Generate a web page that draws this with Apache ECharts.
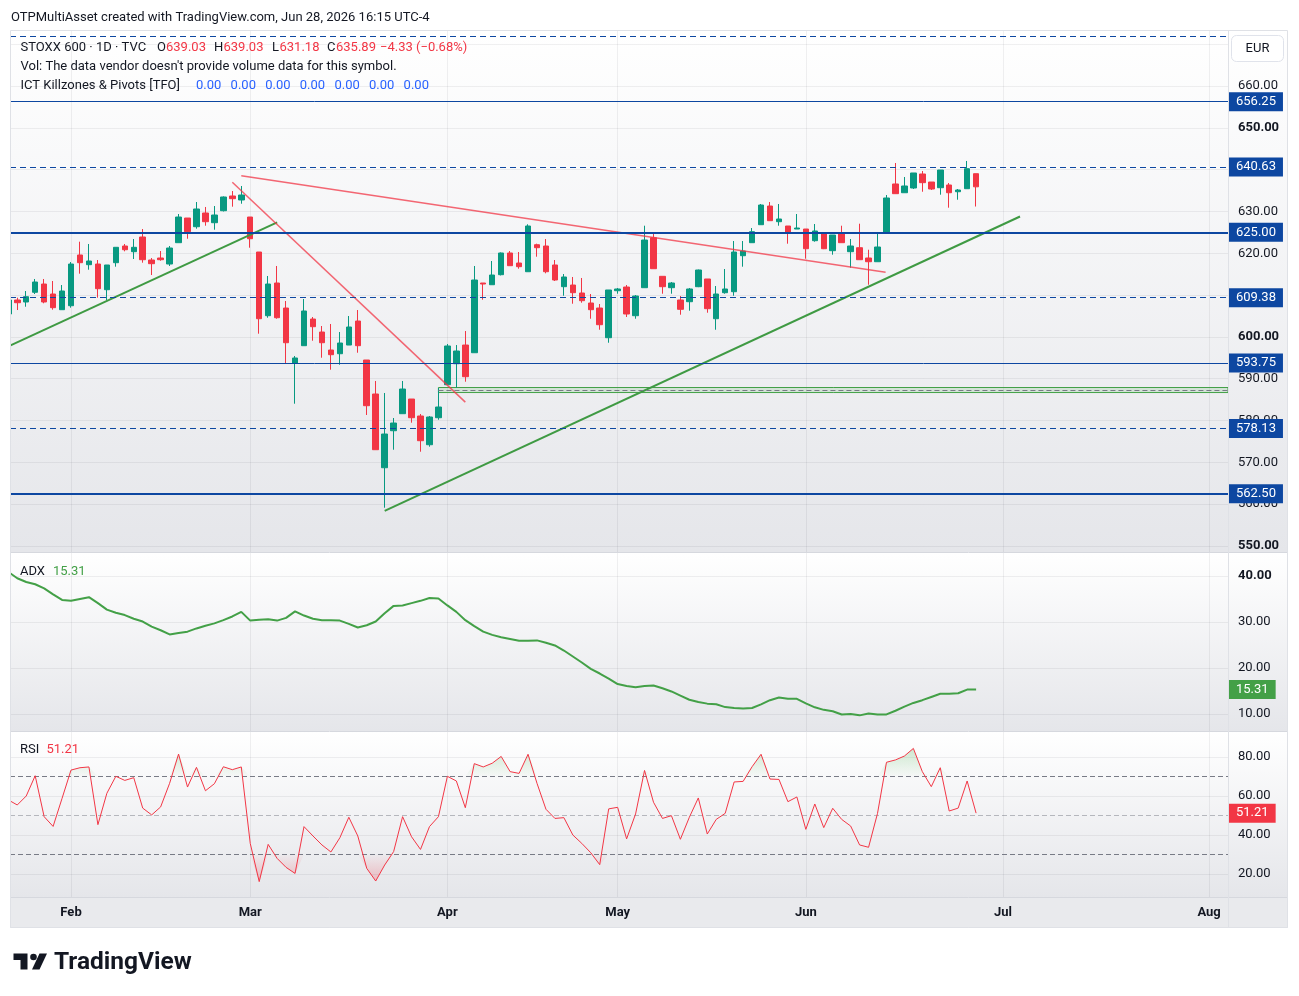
<!DOCTYPE html>
<html>
<head>
<meta charset="utf-8">
<script src="https://cdn.jsdelivr.net/npm/echarts@6/dist/echarts.min.js"></script>
<style>
  html, body { margin: 0; padding: 0; background: #fff; }
  #chart { width: 1299px; height: 996px; }
</style>
</head>
<body>
<div id="chart"></div>
<script>
// STOXX 600 daily, bar index 0 = first trading day of Feb
const firstBar = -7;
const opens = [605.48, 608.83, 608.35, 610.67, 612.65, 610.26, 606.51, 607.46, 619.59, 617.27,
  617.43, 611.29, 617.75, 621.74, 620.38, 623.89, 618.39, 618.87, 617.43, 622.53,
  628.43, 626.35, 629.63, 627.31, 630.18, 633.70, 632.74, 628.67, 620.30, 605.07,
  612.89, 606.91, 593.69, 597.90, 604.28, 601.17, 596.87, 595.98, 598.06, 603.80,
  594.48, 586.35, 568.72, 577.57, 581.64, 585.15, 581.09, 574.22, 580.68, 588.57,
  593.59, 598.06, 596.22, 612.89, 612.48, 614.88, 620.07, 617.67, 615.59, 622.05,
  621.74, 617.20, 612.01, 612.41, 610.50, 608.11, 606.91, 599.81, 611.05, 611.93,
  605.07, 611.77, 623.72, 614.49, 611.77, 608.83, 608.42, 612.01, 613.85, 604.35,
  610.57, 610.81, 619.42, 622.53, 626.83, 631.30, 627.55, 626.52, 625.80, 625.80,
  623.01, 624.85, 620.62, 624.85, 620.38, 621.33, 618.87, 617.98, 624.85, 636.57,
  634.48, 635.61, 638.96, 637.04, 635.68, 636.33, 634.72, 635.44, 639.03];
const highs = [609.50, 609.38, 610.98, 613.85, 613.85, 613.37, 612.41, 617.91, 622.77, 622.22,
  618.39, 617.20, 621.43, 622.22, 623.41, 625.80, 618.87, 620.54, 621.74, 629.39,
  628.43, 632.26, 631.07, 631.30, 633.60, 634.89, 636.09, 628.67, 620.30, 614.57,
  616.96, 608.59, 595.43, 609.07, 604.76, 602.61, 603.09, 601.17, 605.00, 606.43,
  594.48, 589.46, 586.59, 580.61, 589.46, 585.15, 581.57, 581.09, 587.78, 598.30,
  598.06, 601.41, 616.96, 612.89, 618.15, 620.20, 620.54, 620.30, 626.93, 622.29,
  623.41, 618.39, 615.04, 614.33, 614.09, 610.26, 607.87, 611.22, 611.70, 612.41,
  610.02, 626.59, 624.92, 614.49, 613.13, 609.78, 611.70, 616.10, 613.85, 612.17,
  616.24, 622.93, 622.93, 626.04, 631.78, 632.26, 631.78, 626.52, 629.39, 625.80,
  627.00, 625.00, 624.37, 626.59, 623.41, 627.07, 620.85, 625.09, 633.93, 641.59,
  638.24, 639.20, 639.67, 637.04, 639.91, 636.80, 635.37, 642.07, 639.03];
const lows = [605.00, 606.43, 607.22, 610.26, 608.04, 606.51, 606.51, 606.99, 615.12, 616.07,
  609.38, 608.83, 616.79, 620.47, 618.63, 617.75, 614.80, 618.22, 616.96, 622.53,
  623.48, 625.88, 626.59, 625.64, 630.00, 631.14, 631.85, 621.33, 600.77, 604.59,
  604.35, 593.69, 584.03, 597.90, 599.09, 595.03, 592.16, 593.35, 598.06, 596.22,
  581.33, 573.03, 559.16, 573.03, 581.64, 579.49, 572.55, 573.75, 580.20, 588.57,
  587.85, 589.29, 596.22, 608.90, 612.48, 614.70, 617.03, 616.31, 615.59, 619.18,
  615.21, 613.37, 609.85, 607.94, 608.18, 604.35, 601.72, 598.61, 610.33, 604.76,
  604.35, 611.77, 616.31, 610.33, 610.33, 605.31, 606.27, 611.90, 605.79, 601.72,
  610.33, 609.85, 616.79, 622.53, 626.83, 627.79, 626.59, 622.29, 625.80, 618.70,
  622.77, 621.00, 619.66, 622.53, 616.55, 618.46, 612.48, 617.98, 624.85, 634.25,
  634.48, 635.37, 634.72, 635.13, 634.01, 630.90, 632.81, 635.44, 631.18];
const closes = [608.83, 608.18, 609.62, 613.13, 608.35, 606.99, 610.98, 617.43, 617.75, 618.15,
  611.53, 617.20, 621.43, 620.85, 621.43, 618.46, 617.51, 618.46, 621.26, 628.67,
  625.16, 630.59, 627.55, 629.15, 633.46, 633.05, 633.93, 623.48, 604.35, 612.65,
  604.59, 598.61, 594.96, 606.20, 602.44, 598.61, 595.75, 598.54, 602.37, 597.90,
  583.55, 573.03, 576.78, 579.41, 587.54, 580.68, 575.18, 580.85, 583.24, 597.83,
  596.63, 590.49, 613.61, 612.65, 614.80, 620.07, 617.03, 616.79, 626.52, 621.33,
  615.59, 613.61, 614.33, 610.57, 608.66, 606.51, 602.92, 611.22, 611.46, 605.48,
  609.78, 623.17, 616.31, 612.01, 612.89, 606.60, 611.46, 616.00, 606.75, 610.26,
  611.46, 620.30, 620.54, 625.16, 631.54, 627.79, 628.20, 624.92, 626.04, 621.09,
  625.33, 621.09, 624.37, 622.53, 621.74, 618.46, 617.98, 621.50, 633.22, 634.25,
  636.09, 639.20, 636.88, 635.37, 639.91, 634.48, 635.13, 640.22, 635.89];

const adxValues = [40.9, 39.5, 38.7, 38.2, 37.3, 36.0, 34.8, 34.6, 35.0, 35.4,
  34.1, 32.7, 32.0, 31.5, 30.7, 30.1, 29.0, 28.2, 27.3, 27.6,
  27.9, 28.6, 29.2, 29.7, 30.4, 31.2, 32.2, 30.3, 30.5, 30.6,
  30.3, 30.9, 32.3, 31.4, 30.7, 30.4, 30.4, 30.3, 29.6, 28.8,
  29.3, 30.1, 31.9, 33.5, 33.6, 34.1, 34.6, 35.2, 35.1, 33.6,
  32.2, 30.4, 29.1, 27.9, 27.2, 26.7, 26.3, 25.9, 25.9, 26.0,
  25.5, 24.9, 23.8, 22.5, 21.2, 19.8, 18.8, 17.7, 16.5, 16.1,
  15.8, 16.1, 16.2, 15.6, 14.9, 14.0, 13.1, 12.6, 12.25, 12.1,
  11.5, 11.3, 11.2, 11.3, 12.1, 13.0, 13.6, 13.3, 13.3, 12.3,
  11.45, 10.9, 10.6, 9.9, 10.0, 9.7, 10.1, 9.9, 9.9, 10.7,
  11.6, 12.4, 13.0, 13.7, 14.4, 14.4, 14.5, 15.3, 15.31];

const rsiValues = [58.0, 55.4, 60.0, 70.4, 49.4, 44.4, 58.8, 73.3, 74.5, 74.9,
  45.3, 61.4, 70.1, 68.0, 69.4, 53.8, 50.3, 54.4, 66.5, 81.5,
  64.6, 74.7, 62.7, 66.3, 75.0, 73.5, 74.9, 35.7, 16.1, 35.2,
  28.0, 23.4, 20.3, 44.3, 39.5, 34.9, 31.3, 38.6, 49.1, 39.5,
  22.9, 16.4, 24.6, 31.5, 49.4, 39.1, 32.6, 44.3, 49.4, 70.1,
  67.7, 54.0, 76.6, 74.9, 76.8, 80.3, 72.5, 71.6, 81.4, 66.5,
  53.2, 48.5, 48.9, 40.0, 35.7, 30.9, 24.8, 53.4, 54.2, 38.0,
  50.8, 73.1, 56.8, 48.5, 49.9, 37.8, 49.1, 59.0, 40.5, 48.0,
  51.1, 67.2, 67.5, 75.0, 81.4, 68.7, 68.5, 57.1, 59.5, 42.9,
  55.9, 43.8, 53.7, 48.0, 44.6, 34.9, 33.7, 51.1, 77.3, 78.5,
  80.5, 84.4, 72.5, 64.8, 74.5, 52.3, 53.8, 67.7, 51.21];

// pivot levels drawn by the "ICT Killzones & Pivots" script
const pivotLevels = [562.50, 578.13, 593.75, 609.38, 625.00, 640.63, 656.25, 671.88];

// drawings (bar index, price)
const trendGreen1 = [[-6.81, 597.9], [23.0, 627.4]];
const trendGreen2 = [[35.0, 558.4], [105.9, 628.8]];
const trendRed1 = [[19.0, 638.55], [90.9, 615.45]];
const trendRed2 = [[18.0, 637.0], [44.0, 584.4]];
const zoneStart = 41;
const zoneTop = 587.9, zoneBottom = 586.7, zoneMid = 587.3;

// axes ticks
const monthTicks = [0, 20, 42, 61, 82, 104, 127];
const monthNames = ['Feb', 'Mar', 'Apr', 'May', 'Jun', 'Jul', 'Aug'];
const priceTicks = [550, 560, 570, 580, 590, 600, 610, 620, 630, 640, 650, 660, 670];
const priceLabels = [550, 560, 570, 580, 590, 600, 610, 620, 630, 640, 650, 660];
const adxTicks = [10, 20, 30, 40];
const rsiTicks = [20, 40, 60, 80];

const FONT = 'Roboto, "Noto Sans", "DejaVu Sans", sans-serif';
const INK = '#131722';
const UP = '#089981', DOWN = '#f23645';
const PIVOT = '#0d47a1';
const ADXC = '#43a047';
const GRIDC = 'rgba(42,46,57,0.07)';
const X_MIN = -6.81, X_MAX = 129.11;

const last = opens.length - 1;
const candles = opens.map((o, i) => [firstBar + i, o, closes[i], lows[i], highs[i]]);
const adxData = adxValues.map((v, i) => [firstBar + i, v]);
const rsiData = rsiValues.map((v, i) => [firstBar + i, v]);
const chg = closes[last] - closes[last - 1];
const chgPct = chg / closes[last - 1] * 100;
const minus = v => (v < 0 ? '\u2212' : '') + Math.abs(v).toFixed(2);

const myChart = echarts.init(document.getElementById('chart'));

function xAxisFor(gridIndex, showLabels) {
  return {
    type: 'value', gridIndex: gridIndex, min: X_MIN, max: X_MAX,
    axisLine: { show: false },
    axisTick: { show: false, customValues: monthTicks },
    axisLabel: {
      show: showLabels, customValues: monthTicks, margin: 9,
      formatter: v => monthNames[monthTicks.indexOf(v)] || '',
      color: INK, fontWeight: 'bold', fontSize: 13, fontFamily: FONT
    },
    splitLine: { show: true, lineStyle: { color: GRIDC, width: 1 } }
  };
}

function yAxisFor(gridIndex, min, max, ticks, labels, boldSet) {
  return {
    type: 'value', gridIndex: gridIndex, position: 'right', min: min, max: max,
    axisLine: { show: false },
    axisTick: { show: false, customValues: ticks },
    axisLabel: {
      customValues: labels, margin: 10, color: INK, fontSize: 13, fontFamily: FONT,
      formatter: v => boldSet.indexOf(v) >= 0 ? '{b|' + v.toFixed(2) + '}' : v.toFixed(2),
      rich: { b: { fontWeight: 'bold', fontSize: 13, fontFamily: FONT, color: INK } }
    },
    splitLine: { show: true, lineStyle: { color: GRIDC, width: 1 } }
  };
}

function valueTag(color, text) {
  return {
    show: true, position: 'end', distance: 1, formatter: text,
    backgroundColor: color, color: '#fff', padding: [3, 7, 3, 7],
    fontSize: 13, fontFamily: FONT
  };
}

function paneBg(y, h) {
  return {
    type: 'rect', silent: true, z: -10,
    shape: { x: 10, y: y, width: 1278, height: h },
    style: { fill: new echarts.graphic.LinearGradient(0, 0, 0, 1, [
      { offset: 0, color: '#ffffff' }, { offset: 1, color: '#e5e6ea' }]) }
  };
}

function txt(x, y, text, fill, extra) {
  return Object.assign({
    type: 'text', silent: true, z: 50, x: x, y: y,
    style: { text: text, fill: fill, font: '13px ' + FONT, verticalAlign: 'middle' }
  }, extra || {});
}

function hline(y, color) {
  return { type: 'line', silent: true, z: 40,
    shape: { x1: 10, y1: y, x2: 1288, y2: y }, style: { stroke: color, lineWidth: 1 } };
}

const zeros = [];
for (let k = 0; k < 7; k++) zeros.push(txt(196 + k * 34.6, 85.5, '0.00', '#2962ff'));

const option = {
  animation: false,
  backgroundColor: '#ffffff',
  tooltip: { show: false },
  grid: [
    { left: 10, right: 71, top: 30, height: 522 },
    { left: 10, right: 71, top: 553, height: 178 },
    { left: 10, right: 71, top: 732, height: 165 }
  ],
  xAxis: [xAxisFor(0, false), xAxisFor(1, false), xAxisFor(2, true)],
  yAxis: [
    yAxisFor(0, 548.57, 673.39, priceTicks, priceLabels, [550, 600, 650]),
    yAxisFor(1, 6.30, 45.0, adxTicks, adxTicks, [40]),
    yAxisFor(2, 8.21, 92.82, rsiTicks, rsiTicks, [])
  ],
  graphic: [
    paneBg(30, 522), paneBg(553, 178), paneBg(732, 165),
    { type: 'rect', silent: true, z: -10, shape: { x: 10, y: 897, width: 1278, height: 31 },
      style: { fill: '#e9eaed' } },
    // white margin left of the plot (hides overflow of the first, partial candle)
    { type: 'rect', silent: true, z: 45, shape: { x: 0, y: 30, width: 10, height: 898 },
      style: { fill: '#ffffff' } },
    hline(552.5, '#d6d8de'), hline(731.5, '#d6d8de'), hline(897.5, '#d6d8de'),
    { type: 'line', silent: true, z: 40, shape: { x1: 1228.5, y1: 30, x2: 1228.5, y2: 928 },
      style: { stroke: '#dfe1e6', lineWidth: 1 } },
    { type: 'rect', silent: true, z: 46, shape: { x: 10.5, y: 30.5, width: 1277, height: 897 },
      style: { fill: null, stroke: '#dfe1e6', lineWidth: 1 } },
    // header
    txt(11, 17.5, 'OTPMultiAsset created with TradingView.com, Jun 28, 2026 16:15 UTC-4', INK),
    txt(20.5, 47.5, 'STOXX 600 \u00b7 1D \u00b7 TVC', INK),
    txt(157, 47.5, 'O', INK), txt(166, 47.5, opens[last].toFixed(2), DOWN),
    txt(214, 47.5, 'H', INK), txt(223.5, 47.5, highs[last].toFixed(2), DOWN),
    txt(272, 47.5, 'L', INK), txt(279.5, 47.5, lows[last].toFixed(2), DOWN),
    txt(327, 47.5, 'C', INK), txt(336, 47.5, closes[last].toFixed(2), DOWN),
    txt(380, 47.5, minus(chg) + ' (' + minus(chgPct) + '%)', DOWN),
    txt(20.5, 66.5, "Vol: The data vendor doesn't provide volume data for this symbol.", INK),
    txt(20.5, 85.5, 'ICT Killzones & Pivots [TFO]', INK),
    ...zeros,
    txt(20, 571.5, 'ADX', INK), txt(53, 571.5, adxValues[last].toFixed(2), ADXC),
    txt(20, 749.5, 'RSI', INK), txt(46.5, 749.5, rsiValues[last].toFixed(2), DOWN),
    // currency button
    { type: 'rect', silent: true, z: 50, shape: { x: 1231.5, y: 35.5, width: 52, height: 26, r: 5 },
      style: { fill: '#ffffff', stroke: '#e0e3eb', lineWidth: 1 } },
    txt(1257.5, 49, 'EUR', INK, { style: { text: 'EUR', fill: INK, font: '13px ' + FONT,
      align: 'center', verticalAlign: 'middle' }, z: 51 }),
    // TradingView logo
    { type: 'polygon', silent: true, z: 50,
      shape: { points: [[13.5, 953.5], [27.5, 953.5], [27.5, 969.5], [20.5, 969.5], [20.5, 960], [13.5, 960]] },
      style: { fill: INK } },
    { type: 'circle', silent: true, z: 50, shape: { cx: 33.5, cy: 957, r: 3.3 }, style: { fill: INK } },
    { type: 'polygon', silent: true, z: 50,
      shape: { points: [[39.5, 953.5], [47, 953.5], [39.5, 969.5], [32, 969.5]] },
      style: { fill: INK } },
    txt(54, 962.5, 'TradingView', INK, { style: { text: 'TradingView', fill: INK,
      font: 'bold 24.5px ' + FONT, verticalAlign: 'middle' } })
  ],
  series: [
    {
      type: 'candlestick', xAxisIndex: 0, yAxisIndex: 0,
      dimensions: ['bar', 'open', 'close', 'lowest', 'highest'],
      encode: { x: 'bar', y: ['open', 'close', 'lowest', 'highest'] },
      data: candles, barWidth: 6,
      itemStyle: { color: UP, color0: DOWN, borderColor: UP, borderColor0: DOWN, borderWidth: 1 },
      markLine: {
        symbol: ['none', 'none'], silent: true, animation: false,
        data: pivotLevels.map((v, i) => ({
          yAxis: v,
          lineStyle: { color: PIVOT, width: (v === 625 || v === 562.5) ? 2 : 1, type: i % 2 ? [6, 4] : 'solid' },
          label: v > 670 ? { show: false } : valueTag(PIVOT, v.toFixed(2))
        }))
      }
    },
    { type: 'line', xAxisIndex: 0, yAxisIndex: 0, data: trendGreen1, symbol: 'none', silent: true,
      lineStyle: { color: '#3f9a43', width: 2 } },
    { type: 'line', xAxisIndex: 0, yAxisIndex: 0, data: trendGreen2, symbol: 'none', silent: true,
      lineStyle: { color: '#3f9a43', width: 2 },
      markArea: { silent: true,
        itemStyle: { color: 'rgba(76,175,80,0.16)', borderColor: '#43a047', borderWidth: 1 },
        data: [[{ coord: [zoneStart, zoneTop] }, { coord: [X_MAX, zoneBottom] }]] },
      markLine: { silent: true, symbol: ['none', 'none'], label: { show: false },
        lineStyle: { color: '#787b86', width: 1, type: [5, 3] },
        data: [[{ coord: [zoneStart, zoneMid] }, { coord: [X_MAX, zoneMid] }]] } },
    { type: 'line', xAxisIndex: 0, yAxisIndex: 0, data: trendRed1, symbol: 'none', silent: true,
      lineStyle: { color: 'rgba(242,54,69,0.75)', width: 1.5 } },
    { type: 'line', xAxisIndex: 0, yAxisIndex: 0, data: trendRed2, symbol: 'none', silent: true,
      lineStyle: { color: 'rgba(242,54,69,0.75)', width: 1.5 } },
    {
      type: 'line', xAxisIndex: 1, yAxisIndex: 1, data: adxData, symbol: 'none', silent: true,
      lineStyle: { color: ADXC, width: 2 },
      markLine: { silent: true, symbol: ['none', 'none'],
        data: [{ yAxis: adxValues[last], lineStyle: { color: 'rgba(0,0,0,0)' },
          label: valueTag(ADXC, adxValues[last].toFixed(2)) }] }
    },
    {
      type: 'line', xAxisIndex: 2, yAxisIndex: 2, symbol: 'none', silent: true, z: 1,
      data: rsiValues.map((v, i) => [firstBar + i, Math.max(v, 70)]),
      lineStyle: { color: 'rgba(0,0,0,0)' },
      areaStyle: { origin: 70, color: new echarts.graphic.LinearGradient(0, 0, 0, 1, [
        { offset: 0, color: 'rgba(76,175,80,0.38)' }, { offset: 1, color: 'rgba(76,175,80,0.02)' }]) }
    },
    {
      type: 'line', xAxisIndex: 2, yAxisIndex: 2, symbol: 'none', silent: true, z: 1,
      data: rsiValues.map((v, i) => [firstBar + i, Math.min(v, 30)]),
      lineStyle: { color: 'rgba(0,0,0,0)' },
      areaStyle: { origin: 30, color: new echarts.graphic.LinearGradient(0, 0, 0, 1, [
        { offset: 0, color: 'rgba(242,54,69,0.02)' }, { offset: 1, color: 'rgba(242,54,69,0.38)' }]) }
    },
    {
      type: 'line', xAxisIndex: 2, yAxisIndex: 2, data: rsiData, symbol: 'none', silent: true, z: 5,
      color: DOWN,
      lineStyle: { color: DOWN, width: 1 },
      markLine: { silent: true, symbol: ['none', 'none'], label: { show: false },
        data: [
          { yAxis: 70, lineStyle: { color: '#787b86', width: 1, type: [5, 3] } },
          { yAxis: 50, lineStyle: { color: 'rgba(120,123,134,0.5)', width: 1, type: [5, 3] } },
          { yAxis: 30, lineStyle: { color: '#787b86', width: 1, type: [5, 3] } },
          { yAxis: rsiValues[last], lineStyle: { color: 'rgba(0,0,0,0)' },
            label: valueTag(DOWN, rsiValues[last].toFixed(2)) }
        ] }
    }
  ]
};

myChart.setOption(option);
</script>
</body>
</html>
